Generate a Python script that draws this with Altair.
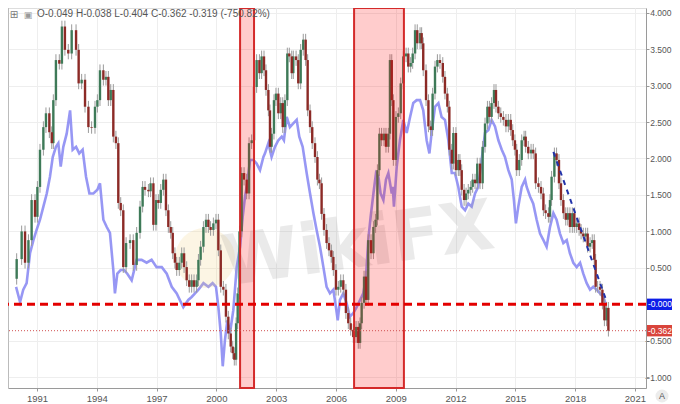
import altair as alt
import pandas as pd

# ---------------- data ----------------
candle_year = [
    1989.98, 1990.23, 1990.40, 1990.57, 1990.73, 1990.90, 1991.02, 1991.15, 1991.32, 1991.45,
    1991.62, 1991.74, 1991.82, 1991.95, 1992.12, 1992.25, 1992.40, 1992.57, 1992.74, 1992.96,
    1993.09, 1993.24, 1993.41, 1993.58, 1993.74, 1993.91, 1994.03, 1994.16, 1994.33, 1994.46,
    1994.58, 1994.70, 1994.83, 1994.96, 1995.08, 1995.20, 1995.33, 1995.47, 1995.67, 1995.83,
    1996.00, 1996.17, 1996.30, 1996.42, 1996.59, 1996.70, 1996.84, 1996.97, 1997.09, 1997.21,
    1997.34, 1997.47, 1997.59, 1997.71, 1997.81, 1997.92, 1998.01, 1998.14, 1998.26, 1998.38,
    1998.51, 1998.64, 1998.76, 1998.88, 1999.01, 1999.10, 1999.21, 1999.35, 1999.48, 1999.60,
    1999.71, 1999.85, 1999.98, 2000.10, 2000.22, 2000.35, 2000.48, 2000.60, 2000.72, 2000.82,
    2000.90, 2000.99, 2001.07, 2001.16, 2001.27, 2001.39, 2001.52, 2001.64, 2001.77, 2001.89,
    2002.02, 2002.16, 2002.27, 2002.39,
    2002.49, 2002.61, 2002.69, 2002.77, 2002.89, 2002.99, 2003.11, 2003.23, 2003.33, 2003.44,
    2003.56, 2003.66, 2003.78, 2003.86, 2004.00, 2004.11, 2004.23, 2004.36, 2004.48, 2004.58,
    2004.70, 2004.81, 2004.95, 2005.07, 2005.17, 2005.28, 2005.40, 2005.53, 2005.65, 2005.77,
    2005.87, 2006.00, 2006.12, 2006.24, 2006.37, 2006.50, 2006.62, 2006.74, 2006.87, 2007.01,
    2007.12, 2007.21, 2007.29, 2007.41, 2007.51, 2007.62, 2007.76, 2007.88, 2007.99, 2008.08,
    2008.18, 2008.29, 2008.41, 2008.51, 2008.63, 2008.71,
    2008.80, 2008.88, 2009.01, 2009.13, 2009.25, 2009.38, 2009.52, 2009.63, 2009.75, 2009.85,
    2009.97, 2010.08, 2010.22, 2010.30, 2010.38, 2010.52, 2010.64, 2010.75, 2010.85, 2010.97,
    2011.09, 2011.22, 2011.36, 2011.47, 2011.59, 2011.69, 2011.81, 2011.89, 2012.02, 2012.14,
    2012.22, 2012.31, 2012.43, 2012.53, 2012.64, 2012.76, 2012.86, 2012.98, 2013.09, 2013.23,
    2013.36, 2013.48, 2013.60, 2013.70, 2013.81, 2013.93, 2014.03, 2014.15, 2014.27, 2014.40,
    2014.53, 2014.65, 2014.77, 2014.87, 2014.98, 2015.07, 2015.20, 2015.32, 2015.44,
    2015.52, 2015.65, 2015.79, 2015.90, 2016.02, 2016.16, 2016.29, 2016.41, 2016.52, 2016.66,
    2016.74, 2016.82, 2016.96, 2017.07, 2017.19, 2017.29, 2017.41, 2017.53, 2017.63, 2017.74,
    2017.86, 2017.96, 2018.08, 2018.20, 2018.30, 2018.41, 2018.53, 2018.63, 2018.75, 2018.86,
    2018.96, 2019.03, 2019.13, 2019.25, 2019.37, 2019.47, 2019.58, 2019.67,
]
candle_close = [
    0.62, 1.00, 0.57, 0.88, 1.43, 1.20, 1.61, 2.12, 2.43, 2.62,
    2.36, 2.21, 2.80, 3.35, 3.30, 3.81, 3.49, 3.44, 3.76, 3.49,
    3.03, 3.08, 2.71, 2.43, 2.42, 2.71, 2.80, 3.21, 3.08, 3.12,
    2.80, 2.94, 2.30, 2.21, 1.39, 1.29, 0.51, 0.84, 0.88, 0.54,
    0.98, 1.34, 1.61, 1.57, 1.55, 1.66, 1.09, 1.43, 1.39, 1.57,
    1.71, 1.29, 1.06, 0.98, 0.70, 0.57, 0.47, 0.57, 0.70, 0.51,
    0.33, 0.24, 0.33, 0.24, 0.33, 0.61, 0.79, 1.06, 1.16, 1.06,
    1.02, 1.11, 1.16, 0.74, 0.24, 0.20, -0.17, -0.40, -0.58, -0.67,
    -0.76, -0.26, 0.15, 1.00, 1.80, 1.71, 1.52, 2.21, 2.25, 2.98,
    3.35, 3.17, 3.40, 3.21,
    2.94, 2.66, 2.16, 2.34, 2.80, 2.89, 2.62, 2.76, 2.43, 2.80,
    3.44, 3.40, 3.17, 3.40, 3.35, 3.03, 3.49, 3.63, 3.35, 2.66,
    2.43, 2.21, 2.02, 1.71, 1.66, 1.24, 1.02, 0.84, 0.74, 0.65,
    0.47, 0.20, 0.24, 0.33, 0.20, -0.12, -0.26, -0.35, -0.45, -0.31,
    -0.53, -0.26, 0.02, 0.38, 0.06, 0.88, 0.70, 1.06, 1.16, 1.84,
    2.34, 2.25, 2.34, 2.16, 2.34, 3.35,
    2.80, 1.98, 2.57, 2.62, 3.03, 3.40, 3.44, 3.26, 3.31, 3.44,
    3.76, 3.58, 3.72, 3.58, 3.21, 2.80, 2.44, 2.39, 2.89, 3.26,
    3.35, 3.31, 3.12, 2.89, 2.71, 2.12, 1.93, 2.35, 1.84, 1.98,
    1.84, 1.57, 1.43, 1.52, 1.57, 1.61, 1.71, 1.66, 1.93, 1.66,
    2.16, 2.48, 2.71, 2.57, 2.76, 2.94, 2.71, 2.62, 2.57, 2.53,
    2.44, 2.53, 2.39, 2.25, 2.12, 1.84, 1.98, 2.25, 2.30,
    2.16, 2.07, 2.12, 2.07, 1.66, 1.61, 1.52, 1.29, 1.25, 1.20,
    1.43, 1.75, 2.07, 1.98, 1.66, 1.43, 1.25, 1.16, 1.25, 1.06,
    1.25, 1.06, 1.11, 1.02, 0.97, 0.93, 0.97, 0.79, 0.84, 0.88,
    0.61, 0.24, 0.24, 0.20, 0.01, -0.22, -0.049, -0.362,
]
first_open = 0.35

purple_year = [
    1989.95, 1990.15, 1990.31, 1990.48, 1990.65, 1990.82, 1990.98, 1991.15, 1991.32, 1991.49,
    1991.65, 1991.79, 1991.95, 1992.07, 1992.19, 1992.32, 1992.49, 1992.66, 1992.79, 1992.96,
    1993.12, 1993.29, 1993.46, 1993.63, 1993.83, 1994.03, 1994.16, 1994.33, 1994.50, 1994.66,
    1994.83, 1994.91, 1995.03, 1995.20, 1995.37, 1995.53, 1995.75,
    1996.00, 1996.25, 1996.50, 1996.75, 1997.00, 1997.26, 1997.51, 1997.76, 1998.01, 1998.34,
    1998.59, 1998.76, 1998.93, 1999.10, 1999.35, 1999.60, 1999.81, 1999.98, 2000.10, 2000.22,
    2000.32, 2000.43, 2000.55, 2000.68, 2000.85, 2001.02, 2001.19, 2001.32, 2001.44, 2001.55,
    2001.69, 2001.86, 2002.02, 2002.19, 2002.36,
    2002.44, 2002.61, 2002.77, 2002.94, 2003.11, 2003.28, 2003.39, 2003.53, 2003.69, 2003.86,
    2004.03, 2004.16, 2004.33, 2004.53, 2004.70, 2004.87, 2005.03, 2005.20, 2005.37, 2005.53,
    2005.70, 2005.87, 2006.00, 2006.09, 2006.20, 2006.37, 2006.54, 2006.70, 2006.87, 2007.04,
    2007.21, 2007.37, 2007.51, 2007.62, 2007.74, 2007.88, 2008.01, 2008.13, 2008.24, 2008.38,
    2008.51, 2008.63, 2008.80,
    2008.85, 2008.91, 2009.05, 2009.21, 2009.38, 2009.55, 2009.72, 2009.88, 2010.05, 2010.22,
    2010.38, 2010.55, 2010.69, 2010.80, 2010.97, 2011.14, 2011.30, 2011.47, 2011.64, 2011.81,
    2011.97, 2012.14, 2012.31, 2012.48, 2012.64, 2012.81, 2012.98, 2013.14, 2013.31, 2013.48,
    2013.65, 2013.81, 2013.98, 2014.15, 2014.32, 2014.48, 2014.65, 2014.82, 2014.93, 2015.03,
    2015.15, 2015.32, 2015.49,
    2015.57, 2015.74, 2015.90, 2016.07, 2016.24, 2016.41, 2016.57, 2016.74, 2016.91, 2017.07,
    2017.24, 2017.41, 2017.58, 2017.74, 2017.91, 2018.08, 2018.25, 2018.41, 2018.58, 2018.75,
    2018.91, 2019.08, 2019.25, 2019.42, 2019.53,
]
purple_value = [
    0.24, 0.03, 0.20, 0.29, 0.70, 0.88, 1.02, 1.16, 1.34, 1.52,
    1.75, 2.02, 2.16, 2.21, 1.89, 2.16, 2.34, 2.66, 2.12, 2.16,
    2.07, 2.12, 1.75, 1.52, 1.52, 1.57, 1.66, 1.16, 1.06, 0.98,
    0.47, 0.15, 0.42, 0.47, 0.47, 0.42, 0.33,
    0.61, 0.61, 0.57, 0.61, 0.51, 0.51, 0.42, 0.24, 0.15, -0.04,
    0.06, 0.10, 0.15, 0.20, 0.29, 0.24, 0.29, 0.24, -0.04, -0.40,
    -0.85, -0.49, -0.22, -0.40, -0.08, 0.51, 0.79, 1.20, 1.48, 1.66,
    1.98, 1.98, 1.93, 1.84, 2.02,
    2.07, 2.21, 2.02, 2.16, 2.25, 2.30, 2.25, 2.57, 2.43, 2.48,
    2.53, 2.30, 2.16, 1.80, 1.52, 1.25, 1.02, 0.79, 0.51, 0.24,
    0.15, 0.20, -0.04, -0.22, 0.06, 0.15, 0.01, -0.17, -0.12, -0.04,
    0.06, 0.15, 0.38, 0.88, 1.20, 1.52, 1.80, 1.75, 1.52, 1.43,
    1.71, 1.80, 1.52,
    1.61, 1.34, 1.89, 2.25, 2.53, 2.35, 2.57, 2.76, 2.80, 2.80,
    2.66, 2.25, 2.07, 2.35, 2.71, 2.76, 2.57, 2.53, 2.25, 1.80,
    1.80, 1.61, 1.34, 1.29, 1.38, 1.34, 1.52, 1.61, 1.98, 2.35,
    2.39, 2.53, 2.44, 2.25, 2.12, 2.02, 1.84, 1.71, 1.43, 1.11,
    1.34, 1.61, 1.71,
    1.61, 1.48, 1.38, 1.16, 0.97, 0.88, 0.79, 1.06, 1.25, 1.16,
    0.97, 0.84, 0.88, 0.70, 0.57, 0.51, 0.57, 0.42, 0.29, 0.20,
    0.24, 0.20, 0.15, 0.10, 0.01,
]

recession_start = [2001.19, 2006.91]
recession_end = [2001.89, 2009.41]

trend_year = [2016.91, 2019.58]
trend_value = [2.09, 0.04]

x_ticks = [1991, 1994, 1997, 2000, 2003, 2006, 2009, 2012, 2015, 2018, 2021]
y_ticks = [-1.0, -0.5, 0.5, 1.0, 1.5, 2.0, 2.5, 3.0, 3.5, 4.0]

legend_text = "O-0.049   H-0.038   L-0.404   C-0.362   -0.319 (-750.82%)"
last_close = -0.362
zero_level = 0.0

# ---------------- build tables ----------------
assert len(candle_year) == len(candle_close)
assert len(purple_year) == len(purple_value)
opens = [first_open] + candle_close[:-1]
candles = pd.DataFrame({"year": candle_year, "open": opens, "close": candle_close})
candles["up"] = ["up" if c >= o else "down" for o, c in zip(opens, candle_close)]
purple = pd.DataFrame({"year": purple_year, "value": purple_value})
rec = pd.DataFrame({"start": recession_start, "end": recession_end})
trend = pd.DataFrame({"year": trend_year, "value": trend_value})

FONT = "Liberation Sans"
W, H = 638, 380
xs = alt.Scale(domain=[1989.545, 2021.557], nice=False, zero=False)
ys = alt.Scale(domain=[-1.148, 4.064], nice=False, zero=False)

X_AXIS = alt.Axis(values=x_ticks, format="d", title=None, orient="bottom",
                  grid=True, gridColor="#eeeeee", tickSize=3, labelPadding=2,
                  tickColor="#999", domainColor="#9a9a9a", labelOverlap=False,
                  labelColor="#555", labelFontSize=9.5, labelFont=FONT)
Y_AXIS = alt.Axis(values=y_ticks, format=".3f", title=None, orient="right",
                  grid=True, gridColor="#eeeeee", tickSize=3, labelPadding=22,
                  labelAlign="right", labelOverlap=False,
                  tickColor="#999", domainColor="#9a9a9a",
                  labelColor="#555", labelFontSize=8.5, labelFont=FONT)


def xq(field):
    return alt.X(field, scale=xs, axis=X_AXIS)


def yq(field):
    return alt.Y(field, scale=ys, axis=Y_AXIS)


purple_line = alt.Chart(purple).mark_line(color="#8585f2", strokeWidth=2.6, opacity=0.85).encode(
    x=xq("year:Q"), y=yq("value:Q"))

left_edge = alt.Chart(pd.DataFrame({"a": [1]})).mark_rule(color="#9a9a9a", strokeWidth=1).encode(
    x=alt.value(0), y=alt.value(0), y2=alt.value(H))

base = alt.Chart(candles).transform_calculate(
    hi="max(datum.open, datum.close) + 0.08",
    lo="min(datum.open, datum.close) - 0.08",
)
wicks = base.mark_rule(color="#9a9a9a", strokeWidth=1).encode(
    x=xq("year:Q"), y=yq("lo:Q"), y2="hi:Q")
bodies_up = base.transform_filter("datum.up == 'up'").mark_rule(
    strokeWidth=2.4, strokeCap="butt", color="#3e7a58").encode(
    x=xq("year:Q"), y=yq("open:Q"), y2="close:Q")
bodies_dn = base.transform_filter("datum.up == 'down'").mark_rule(
    strokeWidth=2.4, strokeCap="butt", color="#8c2a26").encode(
    x=xq("year:Q"), y=yq("open:Q"), y2="close:Q")

rec_rect = alt.Chart(rec).mark_rect(fill="#ff0000", fillOpacity=0.2, stroke="#d42a2a",
                                    strokeWidth=2).encode(
    x=xq("start:Q"), x2="end:Q", y=alt.value(0), y2=alt.value(H))

zero_rule = alt.Chart(pd.DataFrame({"v": [zero_level]})).mark_rule(
    color="#e30000", strokeWidth=3, strokeDash=[8, 5]).encode(y=yq("v:Q"))
last_rule = alt.Chart(pd.DataFrame({"v": [last_close]})).mark_rule(
    color="#d05050", strokeWidth=1, strokeDash=[1, 2]).encode(y=yq("v:Q"))

trend_line = alt.Chart(trend).mark_line(color="#2233aa", strokeWidth=2, strokeDash=[5, 5]).encode(
    x=xq("year:Q"), y=yq("value:Q"))


# right-side price labels
def price_box(value, label, colour):
    d = pd.DataFrame({"v": [value], "top": [value + 0.078], "bot": [value - 0.078], "lab": [label]})
    r = alt.Chart(d).mark_rect(color=colour).encode(
        x=alt.value(W + 1), x2=alt.value(W + 27), y=yq("top:Q"), y2="bot:Q")
    t = alt.Chart(d).mark_text(align="center", baseline="middle", color="white",
                               fontSize=8.5, font=FONT).encode(
        x=alt.value(W + 14), y=yq("v:Q"), text="lab:N")
    return r + t


box_zero = price_box(zero_level, "-0.000", "#0d1ee8")
box_last = price_box(last_close, "-0.362", "#d9443b")

# watermark, header text and the corner button
logo = alt.Chart(pd.DataFrame({"a": [1]})).mark_point(
    shape="circle", filled=True, color="#f2cf7a", opacity=0.2, size=3600).encode(
    x=alt.value(197), y=alt.value(250))
watermark = alt.Chart(pd.DataFrame({"t": ["WikiFX"]})).mark_text(
    fontSize=70, fontWeight="bold", font="DejaVu Sans", color="#9a9a9a", opacity=0.2,
    angle=352, align="center", baseline="middle").encode(
    x=alt.value(350), y=alt.value(238), text="t:N")
header = alt.Chart(pd.DataFrame({"t": [legend_text]})).mark_text(
    align="left", baseline="middle", fontSize=10, font=FONT, color="#555").encode(
    x=alt.value(29), y=alt.value(6), text="t:N")
icon1 = alt.Chart(pd.DataFrame({"t": ["⊞"]})).mark_text(
    align="center", baseline="middle", fontSize=10, font="DejaVu Sans", color="#777").encode(
    x=alt.value(6), y=alt.value(6.5), text="t:N")
icon2 = alt.Chart(pd.DataFrame({"t": ["▣"]})).mark_text(
    align="center", baseline="middle", fontSize=9, font="DejaVu Sans", color="#999").encode(
    x=alt.value(20), y=alt.value(6.5), text="t:N")
btn = alt.Chart(pd.DataFrame({"a": [1]})).mark_point(
    shape="circle", filled=True, color="#ececec", opacity=1, size=170).encode(
    x=alt.value(W + 16), y=alt.value(H + 8))
btn_text = alt.Chart(pd.DataFrame({"t": ["A"]})).mark_text(
    align="center", baseline="middle", fontSize=9, font=FONT, color="#555").encode(
    x=alt.value(W + 16), y=alt.value(H + 8), text="t:N")

chart = alt.layer(
    purple_line, left_edge, logo, watermark, wicks, bodies_up, bodies_dn, rec_rect, zero_rule,
    last_rule, trend_line, box_zero, box_last, header, icon1, icon2, btn, btn_text,
).properties(
    width=W, height=H,
    padding={"left": 0, "top": 0, "right": 26, "bottom": 16},
    autosize=alt.AutoSizeParams(type="none"),
).configure_view(stroke=None).configure(background="white")

chart.save("out.html", embed_options={"renderer": "svg", "actions": False})
